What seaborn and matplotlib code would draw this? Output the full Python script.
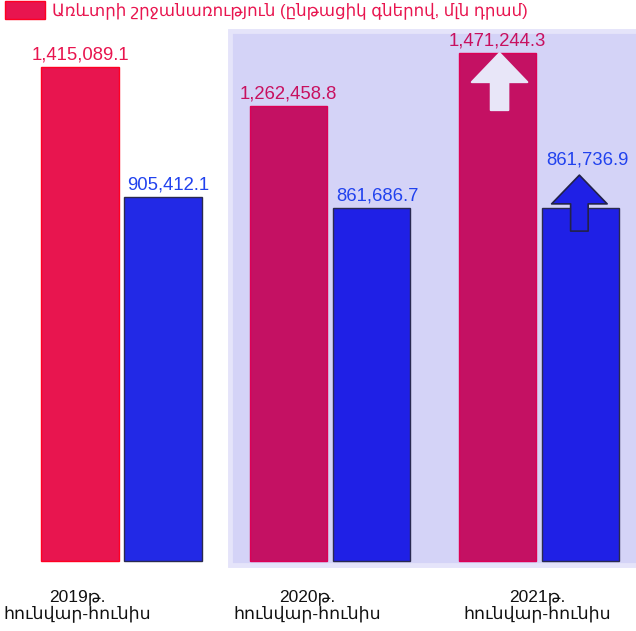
import matplotlib
matplotlib.use("Agg")
import matplotlib.pyplot as plt
from matplotlib.patches import Rectangle, Patch, FancyArrow
import matplotlib.transforms as mtransforms
import pandas as pd
import seaborn as sns

# data
periods = ["2019", "2020", "2021"]
year_labels = ["2019թ.", "2020թ.", "2021թ."]
range_label = "հունվար-հունիս"
trade = [1415089.1, 1262458.8, 1471244.3]
second = [905412.1, 861686.7, 861736.9]
legend_label = "Առևտրի շրջանառություն (ընթացիկ գներով, մլն դրամ)"

df = pd.DataFrame({
    "period": periods * 2,
    "series": ["trade"] * 3 + ["second"] * 3,
    "value": trade + second,
})

sns.set_theme(style="white")
plt.rcParams["font.family"] = ["Liberation Sans", "DejaVu Sans"]

fig = plt.figure(figsize=(6.36, 6.31), dpi=100)
ax = fig.add_axes([0, 0, 1, 1])

sns.barplot(data=df, x="period", y="value", hue="series",
            palette=["#e8154f", "#2229e6"], width=0.795, gap=0.07,
            legend=False, ax=ax, zorder=2)

# the original bars are not to scale: they rise from a base below zero
BASE = -525000
bars = list(ax.patches)
face = ["#e8154f", "#c41163", "#c41163", "#2229e6", "#1f20e6", "#1f20e6"]
edge = ["#ff0022", "#dd0055", "#dd0055", "#2a2a50", "#2a2a50", "#2a2a50"]
for p, fc, ec in zip(bars, face, edge):
    top = p.get_height()
    p.set_y(BASE)
    p.set_height(top - BASE)
    p.set_facecolor(fc)
    p.set_edgecolor(ec)
    p.set_linewidth(1.0)

ax.set_xlim(-0.582, 2.465)
ax.set_ylim(-800000, 1680000)
ax.set_axis_off()

# lavender panel behind 2020 and 2021
ax.add_patch(Rectangle((0.52, -540000), 2.2, 2100000, facecolor="#d4d3f7",
                       edgecolor="#e5e4fa", linewidth=3.5, zorder=0))

# value labels (the last one sits above the arrow)
label_colors = ["#e8154f", "#c8105f", "#c8105f", "#2142ee", "#2142ee", "#2142ee"]
label_dx = [0, 0, 0, 4, 4, 5]
label_dy = [5.8, 5.8, 5.8, 5.8, 5.8, 31.5]
for p, v, c, dx, dy in zip(bars, trade + second, label_colors, label_dx, label_dy):
    ax.annotate(f"{v:,.1f}", (p.get_x() + p.get_width() / 2, v),
                xytext=(dx, dy), textcoords="offset points",
                ha="center", va="baseline", color=c, fontsize=13.3)

# arrows on the 2021 bars
red21, blue21 = bars[2], bars[5]
cx = red21.get_x() + red21.get_width() / 2
ax.add_patch(FancyArrow(cx + 0.01, trade[2] - 224000, 0, 224000, width=0.084,
                        head_width=0.266, head_length=114000,
                        length_includes_head=True, fc="#e8e6f8", ec="#e8e6f8",
                        lw=1.5, joinstyle="round", zorder=3))
cx = blue21.get_x() + blue21.get_width() / 2
ax.add_patch(FancyArrow(cx - 0.005, second[2] - 90000, 0, 220000, width=0.084,
                        head_width=0.266, head_length=113000,
                        length_includes_head=True, fc="#1f20e6", ec="#22224a",
                        lw=1.2, joinstyle="round", zorder=3))

# category labels
trans = mtransforms.blended_transform_factory(ax.transData, ax.transAxes)
for i, yl in enumerate(year_labels):
    x = i * 1.1 - 0.21
    ax.text(x, 0.0465, yl, transform=trans, ha="center", va="baseline",
            fontsize=12.5, color="#111111")
    ax.text(x, 0.021, range_label, transform=trans, ha="center", va="baseline",
            fontsize=12.5, color="#111111")

# legend (only the red series is named)
ax.legend(handles=[Patch(facecolor="#e8154f", edgecolor="#ff0022")],
          labels=[legend_label], loc="upper left",
          bbox_to_anchor=(5 / 636, 1 - 1 / 631), borderaxespad=0, borderpad=0,
          frameon=False, handlelength=2.4, handleheight=1.3, handletextpad=0.45,
          labelcolor="#e8154f",
          prop={"family": ["Liberation Sans", "DejaVu Sans"], "size": 12})

fig.savefig("out.png", dpi=100)
